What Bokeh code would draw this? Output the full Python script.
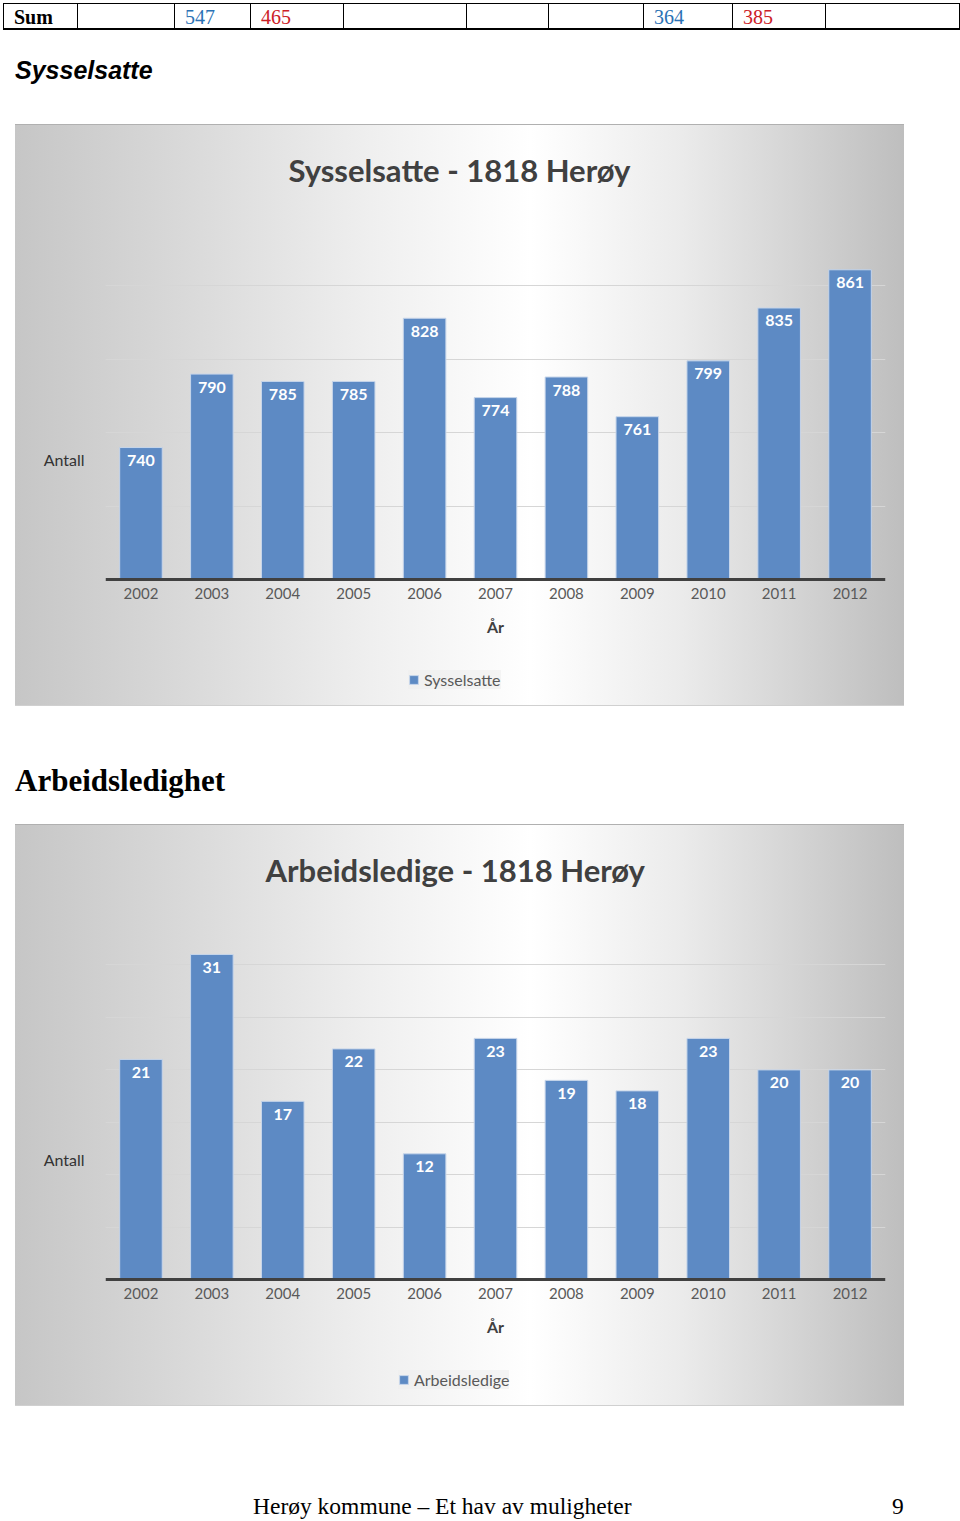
import numpy as np
from bokeh.plotting import figure
from bokeh.models import (Range1d, FactorRange, ColumnDataSource, FixedTicker, Legend,
                          LegendItem, Div)
from bokeh.layouts import column
from bokeh.core.properties import value
from bokeh.embed import file_html
from bokeh.resources import INLINE

# ---------------- data ----------------
years = ["2002", "2003", "2004", "2005", "2006", "2007", "2008", "2009", "2010", "2011", "2012"]
sysselsatte = [740, 790, 785, 785, 828, 774, 788, 761, 799, 835, 861]
arbeidsledige = [21, 31, 17, 22, 12, 23, 19, 18, 23, 20, 20]

table_cells = ["Sum", "", "547", "465", "", "", "", "364", "385", ""]
table_kind = ["head", "", "blue", "red", "", "", "", "blue", "red", ""]

heading1 = "Sysselsatte"
heading2 = "Arbeidsledighet"
footer_text = "Herøy kommune – Et hav av muligheter"
page_no = "9"

# ---------------- page geometry ----------------
col_edges = [3, 77, 174, 250, 343, 466, 548, 643, 732, 825, 959]
kind_color = {"head": "#000000", "blue": "#2a72b5", "red": "#cc2027", "": "#000000"}

GRAD = ("linear-gradient(90deg, #c6c6c6 0%, #d8d8d8 18%, #efefef 40%, #ffffff 58%, "
        "#ebebeb 75%, #d0d0d0 90%, #bebebe 100%)")
BOX_H = 582          # height of the grey chart box
FRAME_TOP = 87       # chart box top -> top gridline
FRAME_AX = 455       # chart box top -> x axis line
EXTRA = 58           # reserved strip below the box (axis panel)


def box(left, top, w, h):
    return (f'<div style="position:absolute;left:{left}px;top:{top}px;width:{w}px;'
            f'height:{h}px;background:#000;"></div>')


def txt(left, top, s, font, extra=""):
    return (f'<div style="position:absolute;left:{left}px;top:{top}px;white-space:nowrap;'
            f'line-height:1;font:{font};{extra}">{s}</div>')


def page_div(h, inner):
    return Div(text=f'<div style="position:relative;width:960px;height:{h}px;background:#fff;">'
                    + inner + "</div>", width=960, height=h, margin=0)


# ---------------- header: table row + first heading ----------------
parts = [box(col_edges[0], 3, col_edges[-1] - col_edges[0], 1),
         box(col_edges[0], 28, col_edges[-1] - col_edges[0] + 1, 2)]
for e in col_edges:
    parts.append(box(e, 3, 1, 26))
for i, (t, k) in enumerate(zip(table_cells, table_kind)):
    if t:
        weight = "bold " if k == "head" else ""
        parts.append(txt(col_edges[i] + 11, 5.5, t, f"{weight}20px 'Liberation Serif'",
                         f"color:{kind_color[k]};"))
parts.append(txt(15, 56, heading1, "italic bold 25px 'Liberation Sans'", "color:#000;"))
head = page_div(124, "".join(parts))


# ---------------- chart builder ----------------
def make_chart(title, name, vals, ymin, ymax, step, title_offset, legend_x):
    ppu = (FRAME_AX - FRAME_TOP) / (ymax - ymin)
    y_lo = ymin - (BOX_H - FRAME_AX) / ppu
    bg = ("linear-gradient(#b0b0b0,#b0b0b0) 0 0/100% 1px no-repeat, "
          f"linear-gradient(#d0d0d0,#d0d0d0) 0 {BOX_H - 1}px/100% 1px no-repeat, "
          f"{GRAD} 0 0/100% {BOX_H}px no-repeat")
    p = figure(width=889, height=BOX_H + EXTRA, x_range=FactorRange(*years),
               y_range=Range1d(y_lo, ymax), toolbar_location=None, output_backend="svg",
               min_border_left=90, min_border_right=19, min_border_top=FRAME_TOP,
               min_border_bottom=EXTRA)
    p.margin = (0, 0, 0, 15)
    p.styles = {"background": bg}
    p.background_fill_color = None
    p.border_fill_color = None
    p.outline_line_color = None

    p.title.text = title
    p.title.align = "left"
    p.title.offset = title_offset
    p.title.text_font = "Lato"
    p.title.text_font_style = "bold"
    p.title.text_font_size = "31px"
    p.title.text_color = "#404040"
    p.title.standoff = 48

    src = ColumnDataSource(dict(x=years, top=vals, lab=[str(v) for v in vals]))
    bars = p.vbar(x="x", top="top", bottom=ymin, width=0.6, source=src,
                  fill_color="#5d8ac4", line_color="#c6d5ea", line_width=1)
    p.text(x="x", y="top", text="lab", source=src, text_color="white",
           text_font=value("Lato"), text_font_style="bold", text_font_size="16px",
           text_align="center", text_baseline="middle", y_offset=13)

    # axes
    p.yaxis.ticker = FixedTicker(ticks=[])
    p.ygrid.ticker = FixedTicker(ticks=list(range(ymin, ymax + 1, step)))
    p.yaxis.axis_line_color = None
    p.yaxis.major_tick_line_color = None
    p.yaxis.minor_tick_line_color = None
    p.yaxis.axis_label = "Antall"
    p.yaxis.axis_label_orientation = "horizontal"
    p.yaxis.axis_label_text_font = "Lato"
    p.yaxis.axis_label_text_font_style = "normal"
    p.yaxis.axis_label_text_font_size = "16px"
    p.yaxis.axis_label_text_color = "#333333"
    p.yaxis.axis_label_standoff = 21

    p.xaxis.fixed_location = ymin
    p.xaxis.axis_line_color = "#404040"
    p.xaxis.axis_line_width = 3
    p.xaxis.major_tick_out = 0
    p.xaxis.major_tick_in = 0
    p.xaxis.major_tick_line_color = None
    p.xaxis.minor_tick_line_color = None
    p.xaxis.major_label_text_font = "Lato"
    p.xaxis.major_label_text_font_size = "15px"
    p.xaxis.major_label_text_color = "#595959"
    p.xaxis.major_label_standoff = 8
    p.xaxis.axis_label = "År"
    p.xaxis.axis_label_text_font = "Lato"
    p.xaxis.axis_label_text_font_style = "bold"
    p.xaxis.axis_label_text_font_size = "16px"
    p.xaxis.axis_label_text_color = "#404040"
    p.xaxis.axis_label_standoff = 15

    p.xgrid.grid_line_color = None
    p.ygrid.grid_line_color = "#d6d6d6"
    p.ygrid.grid_line_width = 1

    leg = Legend(items=[LegendItem(label=name, renderers=[bars])], orientation="horizontal",
                 location=(legend_x, 17))
    leg.background_fill_color = "#eeeeee"
    leg.background_fill_alpha = 0.6
    leg.border_line_color = None
    leg.label_text_font = "Lato"
    leg.label_text_font_size = "16px"
    leg.label_text_color = "#595959"
    leg.label_height = 16
    leg.glyph_width = 11
    leg.glyph_height = 11
    leg.padding = 5
    leg.label_standoff = 5
    p.add_layout(leg)
    return p


chart1 = make_chart("Sysselsatte - 1818 Herøy", "Sysselsatte", sysselsatte,
                    650, 900, 50, 183, 303)

mid = page_div(824 - 124 - BOX_H - EXTRA,
               txt(15, -1, heading2, "bold 31px 'Liberation Serif'", "color:#000;"))

chart2 = make_chart("Arbeidsledige - 1818 Herøy", "Arbeidsledige", arbeidsledige,
                    0, 35, 5, 160, 293)

foot_h = 1521 - 824 - BOX_H - EXTRA
foot = page_div(foot_h,
                txt(253, 1493.3 - 1464, footer_text, "23.5px 'Liberation Serif'", "color:#000;")
                + txt(892, 1493.3 - 1464, page_no, "23.5px 'Liberation Serif'", "color:#000;"))

page = column(head, chart1, mid, chart2, foot, spacing=0)

open("out.html", "w").write(file_html(page, INLINE))
